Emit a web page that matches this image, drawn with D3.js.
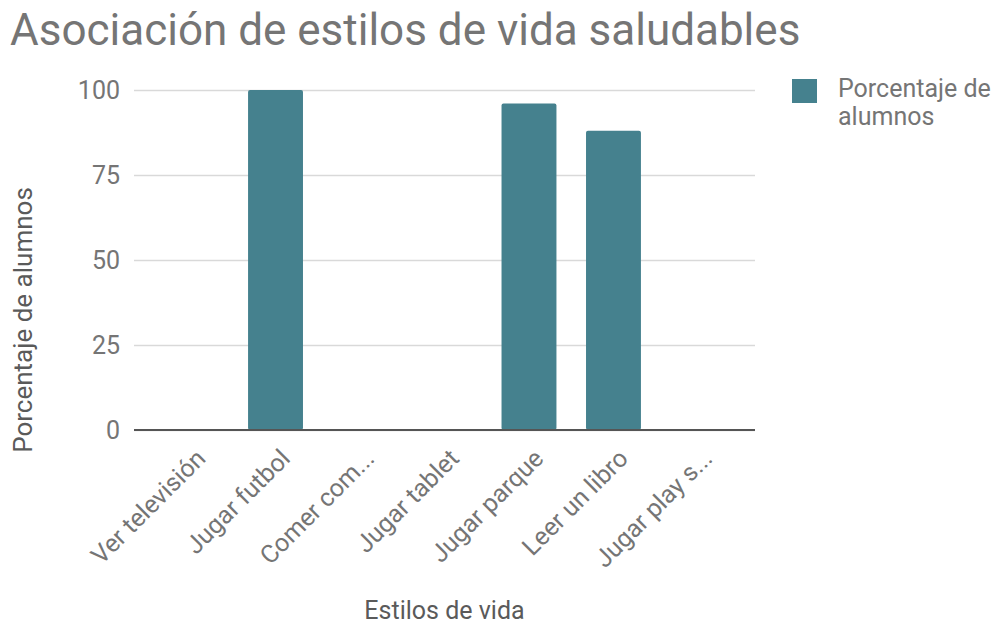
<!DOCTYPE html>
<html>
<head>
<meta charset="utf-8">
<script src="https://cdn.jsdelivr.net/npm/d3@7"></script>
<style>
  html, body { margin: 0; padding: 0; background: #fff; }
  svg { display: block; font-family: Roboto, "Noto Sans", sans-serif; }
</style>
</head>
<body>
<svg id="chart" width="1003" height="628"></svg>
<script>
// Estilos de vida y porcentaje de alumnos
const categories = ["Ver televisión", "Jugar futbol", "Comer com...", "Jugar tablet", "Jugar parque", "Leer un libro", "Jugar play s..."];
const values = [0, 100, 0, 0, 96, 88, 0];
const yTicks = [0, 25, 50, 75, 100];
const seriesName = ["Porcentaje de", "alumnos"];

const svg = d3.select("#chart");
const margin = { left: 134, right: 248, top: 90, bottom: 198 };
const W = 1003, H = 628;
const textColor = "#757575";
const titleColor = "#5a5a5a";
const barColor = "#45818e";

const x = d3.scaleBand()
  .domain(categories)
  .range([margin.left, W - margin.right])
  .padding(0.35);

const y = d3.scaleLinear()
  .domain([0, 100])
  .range([H - margin.bottom, margin.top]);

// Title
svg.append("text")
  .attr("x", 10).attr("y", 45)
  .attr("fill", textColor)
  .attr("font-size", 44)
  .text("Asociación de estilos de vida saludables");

// Gridlines and y tick labels
const yAxis = d3.axisLeft(y)
  .tickValues(yTicks)
  .tickSize(-(W - margin.right - margin.left))
  .tickPadding(14);
const gy = svg.append("g")
  .attr("transform", `translate(${margin.left},0)`)
  .call(yAxis);
gy.select(".domain").remove();
gy.selectAll(".tick line").attr("stroke", "#d9d9d9").attr("stroke-width", 1.5);
gy.selectAll(".tick text")
  .attr("fill", textColor)
  .attr("font-size", 25)
  .attr("font-family", "Roboto, sans-serif");

// Bars
svg.append("g").selectAll("rect")
  .data(categories.map((c, i) => ({ c, v: values[i] })))
  .join("rect")
  .attr("x", d => x(d.c))
  .attr("width", x.bandwidth())
  .attr("y", d => y(d.v))
  .attr("height", d => y(0) - y(d.v))
  .attr("rx", 2)
  .attr("fill", barColor);

// Baseline
svg.append("line")
  .attr("x1", margin.left).attr("x2", W - margin.right)
  .attr("y1", y(0)).attr("y2", y(0))
  .attr("stroke", "#555").attr("stroke-width", 2);

// X tick labels, rotated
const xAxis = d3.axisBottom(x).tickSize(0).tickPadding(0);
const gx = svg.append("g")
  .attr("transform", `translate(0,${y(0)})`)
  .call(xAxis);
gx.select(".domain").remove();
gx.selectAll(".tick text")
  .attr("fill", textColor)
  .attr("font-size", 25)
  .attr("font-family", "Roboto, sans-serif")
  .attr("text-anchor", "end")
  .attr("dy", null)
  .attr("y", 0)
  .attr("transform", "translate(16,30) rotate(-45)");

// Axis titles
svg.append("text")
  .attr("x", (margin.left + W - margin.right) / 2)
  .attr("y", 619)
  .attr("text-anchor", "middle")
  .attr("fill", titleColor)
  .attr("font-size", 25)
  .text("Estilos de vida");

svg.append("text")
  .attr("transform", `translate(32,320) rotate(-90)`)
  .attr("text-anchor", "middle")
  .attr("fill", titleColor)
  .attr("font-size", 26)
  .text("Porcentaje de alumnos");

// Legend
const lg = svg.append("g").attr("transform", "translate(792,79)");
lg.append("rect").attr("width", 25).attr("height", 24).attr("fill", barColor);
lg.selectAll("text.lbl")
  .data(seriesName)
  .join("text")
  .attr("class", "lbl")
  .attr("x", 46)
  .attr("y", (d, i) => 18 + i * 28)
  .attr("fill", textColor)
  .attr("font-size", 25)
  .text(d => d);
</script>
</body>
</html>
